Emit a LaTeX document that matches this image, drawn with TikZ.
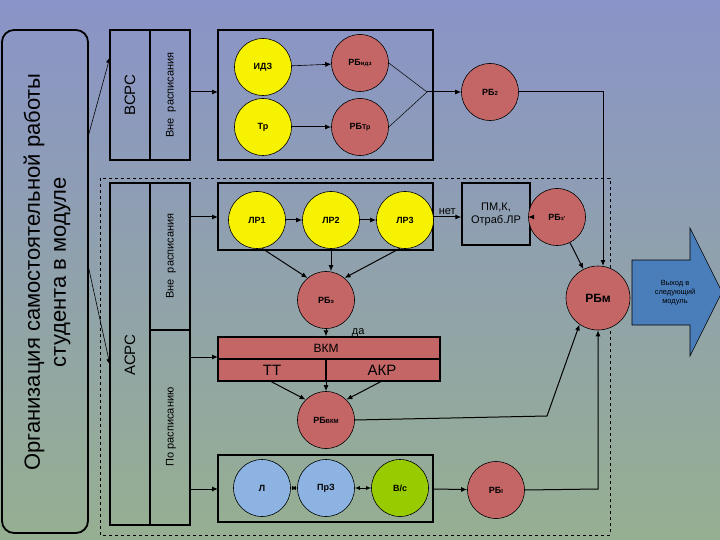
\documentclass[tikz,border=0pt]{standalone}
\usepackage{fontspec}
\setmainfont{Liberation Sans}
\usetikzlibrary{arrows.meta}
\definecolor{yel}{HTML}{F7F200}
\definecolor{red1}{HTML}{C46666}
\definecolor{blu}{HTML}{8DB3E2}
\definecolor{grn}{HTML}{99CC00}
\definecolor{exitc}{HTML}{4A7EBB}
\begin{document}
\begin{tikzpicture}[x=1pt,y=-1pt,
  every path/.style={line width=1pt},
  arr/.style={-{Latex[length=6pt,width=5pt]},line width=1pt},
  thin arr/.style={-{Latex[length=6pt,width=5pt]},line width=0.6pt},
  dbl/.style={{Latex[length=5pt,width=4pt]}-{Latex[length=5pt,width=4pt]},line width=1pt},
  circ/.style={circle,draw,line width=0.6pt,minimum size=57pt,inner sep=0pt,font=\bfseries\fontsize{9}{10}\selectfont},
  yc/.style={circ,fill=yel},
  rc/.style={circ,fill=red1},
  bx/.style={draw,line width=1.2pt},
]
\shade[top color={rgb,255:red,138;green,148;blue,200},middle color={rgb,255:red,208;green,218;blue,245},bottom color={rgb,255:red,150;green,175;blue,145}] (0,0) rectangle (720,540);
\useasboundingbox (0,0) rectangle (720,540);

% left rounded box
\node[draw,line width=1.8pt,rounded corners=12pt,minimum width=86pt,minimum height=503pt,inner sep=0pt] (org) at (45,281.5) {};
\node[rotate=90,align=center,font=\fontsize{22}{26}\selectfont] at (47,272) {Организация самостоятельной работы\\студента в модуле};

% dashed region
\draw[dashed,line width=0.6pt] (100,178) rectangle (610,535);

% VSRS
\draw[bx] (110,30) rectangle (190,160); \draw[bx] (150,30) -- (150,160);
\node[rotate=90,font=\fontsize{15}{15}\selectfont] at (130,95) {ВСРС};
\node[rotate=90,font=\fontsize{11}{11}\selectfont] at (171,95) {Вне\ \ расписания};
\coordinate (vsrsin) at (110,57);
\coordinate (asrsin) at (110,365);
\draw[thin arr] (88,137) -- (vsrsin);
\draw[thin arr] (88,265) -- (asrsin);

% ASRS
\draw[bx] (110,183) rectangle (190,525); \draw[bx] (150,183) -- (150,525);
\draw[bx] (150,330) -- (190,330);
\node[rotate=90,font=\fontsize{15}{15}\selectfont] at (130,355) {АСРС};
\node[rotate=90,font=\fontsize{11}{11}\selectfont] at (171,256) {Вне\ \ расписания};
\node[rotate=90,font=\fontsize{11}{11}\selectfont] at (171,427) {По расписанию};

% upper box
\draw[bx] (218,30) rectangle (433,160);
\coordinate (u1) at (190,92); \coordinate (u2) at (218,92);
\draw[arr] (u1) -- (u2);
\node[yc] (idz) at (263,67) {ИДЗ};
\node[rc] (rbidz) at (360,63) {РБ{\fontsize{6}{6}\selectfont идз}};
\node[yc] (tr) at (263,127) {Тр};
\node[rc] (rbtr) at (360,127) {РБ{\fontsize{7}{7}\selectfont Тр}};
\draw[thin arr] (idz) -- (rbidz);
\draw[arr] (tr) -- (rbtr);
\coordinate (conv) at (427,92);
\draw[line width=0.5pt] (rbidz.east) -- (conv) -- (rbtr.east);
\node[rc] (rb2) at (490,92) {РБ{\fontsize{6}{6}\selectfont 2}};
\draw[arr] (conv) -- (rb2);

% LR box
\draw[bx] (218,183) rectangle (433,250);
\coordinate (l1) at (190,217); \coordinate (l2) at (218,217);
\draw[arr] (l1) -- (l2);
\node[yc] (lr1) at (257,220) {ЛР1};
\node[yc] (lr2) at (331,220) {ЛР2};
\node[yc] (lr3) at (405,220) {ЛР3};
\draw[arr] (lr1) -- (lr2); \draw[arr] (lr2) -- (lr3);
\node[draw,line width=1.2pt,minimum width=68pt,minimum height=62pt,align=center,inner sep=0pt,font=\fontsize{11}{13}\selectfont] (pm) at (496,214) {ПМ,К,\\Отраб.ЛР};
\coordinate (lrout) at (433,217);
\draw[arr] (lrout) -- (pm.west|-lrout) node[midway,above,font=\fontsize{11}{11}\selectfont,inner sep=2pt] {нет};
\node[rc] (rb3) at (557,217) {РБ{\fontsize{6}{6}\selectfont з'}};
\draw[arr] (pm.east|-rb3) -- (rb3);

\node[rc] (rbe) at (326,300) {РБ{\fontsize{6}{6}\selectfont э}};
\draw[arr] (lr1.-80) -- (rbe.130);
\draw[arr] (lr2.south) -- (rbe.north-|lr2.south);
\draw[arr] (lr3.-100) -- (rbe.50);

\node[rc,minimum size=64pt,font=\bfseries\fontsize{12}{12}\selectfont] (rbm) at (598,298) {РБм};
\draw[arr] (rb2.east) -- (603,92) -- (603,266);
\draw[arr] (rb3) -- (rbm);

% VKM
\node[bx,fill=red1,minimum width=222pt,minimum height=44pt,inner sep=0pt] (vkm) at (329,359) {};
\draw[bx] (218,359) -- (440,359); \draw[bx] (326,359) -- (326,381);
\node[font=\fontsize{12}{12}\selectfont] at (326,348) {ВКМ};
\node[font=\fontsize{15}{15}\selectfont] (tt) at (272,370) {ТТ};
\node[font=\fontsize{15}{15}\selectfont] (akr) at (382,370) {АКР};
\draw[arr] (rbe) -- (vkm.north-|rbe) node[midway,right=22pt,font=\fontsize{11}{11}\selectfont] {да};
\coordinate (k1) at (190,357); \coordinate (k2) at (218,357);
\draw[arr] (k1) -- (k2);
\node[rc] (rbvkm) at (326,420) {РБ{\fontsize{6}{6}\selectfont ВКМ}};
\coordinate (tt0) at (270,381); \coordinate (akr0) at (382,381);
\draw[arr] (tt0) -- (rbvkm.135);
\draw[arr] (326,381) -- (rbvkm.north);
\draw[arr] (akr0) -- (rbvkm.45);
\draw[arr] (rbvkm.east) -- (547,416) -- (rbm.-125);

% lower box
\draw[bx] (218,455) rectangle (433,522);
\coordinate (b1) at (190,489); \coordinate (b2) at (218,489);
\draw[arr] (b1) -- (b2);
\node[circ,fill=blu] (L) at (262,488) {Л};
\node[circ,fill=blu] (prz) at (326,488) {ПрЗ};
\node[circ,fill=grn] (vs) at (400,488) {В/с};
\draw[dbl] (L) -- (prz); \draw[dbl] (prz) -- (vs);
\node[rc] (rbi) at (496,490) {РБ{\fontsize{6}{6}\selectfont I}};
\draw[arr] (433,489) -- (rbi);
\draw[arr] (rbi.east) -- (598,489) -- (rbm.south);

% exit arrow
\draw[line width=0.6pt,fill=exitc] (632,260) -- (690,260) -- (690,228) -- (722,292) -- (690,356) -- (690,325) -- (632,325) -- cycle;
\node[align=center,font=\fontsize{7.5}{9}\selectfont] (exit) at (675,293) {Выход в\\следующий\\модуль};
\end{tikzpicture}
\end{document}
